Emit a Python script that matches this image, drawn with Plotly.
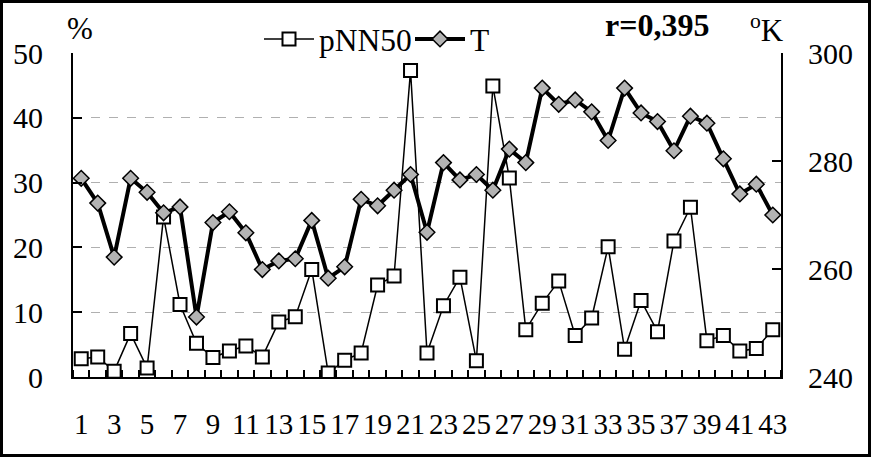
import plotly.graph_objects as go

categories = [1, 2, 3, 4, 5, 6, 7, 8, 9, 10, 11, 12, 13, 14, 15, 16, 17, 18, 19, 20, 21, 22,
              23, 24, 25, 26, 27, 28, 29, 30, 31, 32, 33, 34, 35, 36, 37, 38, 39, 40, 41, 42, 43]

pnn50 = [2.8, 3.1, 0.9, 6.7, 1.4, 24.7, 11.2, 5.2, 3.0, 4.0, 4.8, 3.1, 8.5, 9.3, 16.6, 0.6,
         2.6, 3.7, 14.2, 15.6, 47.3, 3.7, 11.0, 15.4, 2.5, 44.9, 30.7, 7.3, 11.4, 14.8, 6.4,
         9.1, 20.1, 4.3, 11.8, 7.0, 21.0, 26.2, 5.6, 6.4, 4.0, 4.4, 7.3]

temp_k = [276.8, 272.2, 262.2, 276.8, 274.2, 270.4, 271.5, 251.1, 268.6, 270.6, 266.7, 259.9,
          261.5, 261.9, 269.0, 258.3, 260.4, 272.9, 271.7, 274.6, 277.5, 266.8, 279.7, 276.5,
          277.5, 274.6, 282.2, 279.7, 293.5, 290.5, 291.3, 289.1, 283.8, 293.5, 288.9, 287.3,
          281.9, 288.3, 287.0, 280.4, 273.9, 275.7, 270.0]

x_tickvals = [1, 3, 5, 7, 9, 11, 13, 15, 17, 19, 21, 23, 25, 27, 29, 31, 33, 35, 37, 39, 41, 43]
x_ticktext = [str(v) for v in x_tickvals]
left_ticks = [0, 10, 20, 30, 40, 50]
right_ticks = [240, 260, 280, 300]

FONT = "Liberation Serif"

fig = go.Figure()
fig.add_trace(go.Scatter(
    x=categories, y=pnn50, name="pNN50", mode="lines+markers",
    line=dict(color="black", width=1.5),
    marker=dict(symbol="square", size=13, color="white", line=dict(color="black", width=2)),
    yaxis="y"))
fig.add_trace(go.Scatter(
    x=categories, y=temp_k, name="T", mode="lines+markers",
    line=dict(color="black", width=4),
    marker=dict(symbol="diamond", size=12, color="#b3b3b3", line=dict(color="black", width=1.5)),
    yaxis="y2"))

W, H = 871, 457
L, R, T, B = 73, 90, 53, 80
pw, ph = W - L - R, H - T - B

def px(xp):
    return (xp - L) / pw

def py(yp):
    return (H - B - yp) / ph

fig.update_layout(
    width=W, height=H,
    margin=dict(l=L, r=R, t=T, b=B),
    paper_bgcolor="white", plot_bgcolor="white",
    font=dict(family=FONT, size=30, color="black"),
    showlegend=True,
    legend=dict(orientation="h", x=px(259), xanchor="left", y=py(12), yanchor="top",
                font=dict(family=FONT, size=31.5, color="black"), itemwidth=50,
                entrywidth=86, entrywidthmode="pixels",
                bgcolor="rgba(0,0,0,0)", tracegroupgap=0),
    xaxis=dict(range=[0.5, 43.5], tickmode="array", tickvals=x_tickvals, ticktext=x_ticktext,
               ticks="", showline=True, linecolor="black", linewidth=2, showgrid=False,
               zeroline=False, automargin=False,
               tickfont=dict(family=FONT, size=29), ticklabelstandoff=20,
               minor=dict(ticks="inside", tick0=0.5, dtick=1, ticklen=7, tickwidth=1.5,
                          tickcolor="black", showgrid=False)),
    yaxis=dict(range=[0, 50], tickmode="array", tickvals=left_ticks, ticks="inside",
               ticklen=9, tickwidth=2, tickcolor="black", showline=True, linecolor="black",
               linewidth=2, showgrid=True, gridcolor="#b0b0b0", griddash="dash", gridwidth=1,
               zeroline=False, automargin=False,
               tickfont=dict(family=FONT, size=30), ticklabelstandoff=22),
    yaxis2=dict(range=[240, 300], tickmode="array", tickvals=right_ticks, overlaying="y",
                side="right", ticks="inside", ticklen=9, tickwidth=2, tickcolor="black",
                showline=True, linecolor="black", linewidth=2, showgrid=False, zeroline=False,
                automargin=False,
                tickfont=dict(family=FONT, size=30), ticklabelstandoff=19),
)

fig.add_annotation(text="%", x=px(80), y=py(28), xref="paper", yref="paper",
                   xanchor="center", yanchor="middle",
                   showarrow=False, font=dict(family=FONT, size=31))
fig.add_annotation(text="<b>r=0,395</b>", x=px(657), y=py(25), xref="paper", yref="paper",
                   xanchor="center", yanchor="middle",
                   showarrow=False, font=dict(family=FONT, size=32))
fig.add_annotation(text="<sup>o</sup>K", x=px(767), y=py(28), xref="paper", yref="paper",
                   xanchor="center", yanchor="middle",
                   showarrow=False, font=dict(family=FONT, size=31))

fig.add_shape(type="rect", xref="paper", yref="paper",
              x0=px(1.5), x1=px(869.5), y0=py(455.5), y1=py(1.5),
              line=dict(color="black", width=3), fillcolor="rgba(0,0,0,0)", layer="above")

fig.write_html("out.html", config={"displayModeBar": False},
               post_script="document.body.style.margin='0';document.body.style.overflow='hidden';")
